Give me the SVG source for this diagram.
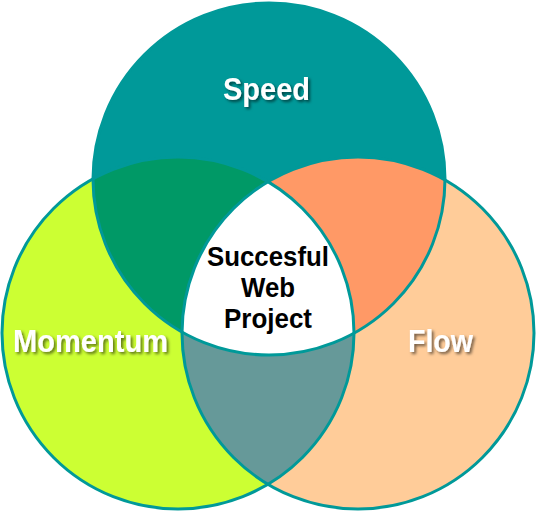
<svg xmlns="http://www.w3.org/2000/svg" width="536" height="513" viewBox="0 0 536 513">
<style>
.ring{fill:none;stroke:#009999;stroke-width:3}
.lbl{font-family:"Liberation Sans",Arial,sans-serif;font-weight:bold;font-size:31px;fill:#ffffff;text-anchor:middle;filter:url(#shadow)}
.ctr{font-family:"Liberation Sans",Arial,sans-serif;font-weight:bold;font-size:28px;fill:#000000;text-anchor:middle}
</style>
<defs>
<filter id="shadow" x="-20%" y="-30%" width="140%" height="160%">
<feDropShadow dx="2" dy="2" stdDeviation="1.5" flood-color="#000000" flood-opacity="0.55"/>
</filter>
<clipPath id="cTop"><circle cx="269" cy="179" r="176"/></clipPath>
<clipPath id="cLeft"><circle cx="178" cy="333" r="176"/></clipPath>
<clipPath id="cRight"><circle cx="358" cy="333" r="176"/></clipPath>
</defs>
<g id="node-speed">
<circle cx="269" cy="179" r="176" fill="#009999"/>
</g>
<g id="node-momentum">
<circle cx="178" cy="333" r="176" fill="#ccff33"/>
</g>
<g id="node-flow">
<circle cx="358" cy="333" r="176" fill="#ffcc99"/>
</g>
<g id="overlaps">
<g clip-path="url(#cTop)"><circle cx="178" cy="333" r="176" fill="#009966"/></g>
<g clip-path="url(#cTop)"><circle cx="358" cy="333" r="176" fill="#ff9966"/></g>
<g clip-path="url(#cLeft)"><circle cx="358" cy="333" r="176" fill="#669999"/></g>
<g id="node-center" clip-path="url(#cTop)"><g clip-path="url(#cLeft)"><circle cx="358" cy="333" r="176" fill="#ffffff"/></g></g>
</g>
<g id="connectors">
<circle class="ring" cx="269" cy="179" r="176"/>
<circle class="ring" cx="178" cy="333" r="176"/>
<circle class="ring" cx="358" cy="333" r="176"/>
</g>
<g id="labels">
<text class="lbl" x="266.5" y="100" textLength="87" lengthAdjust="spacingAndGlyphs">Speed</text>
<text class="lbl" x="90.5" y="352" textLength="155" lengthAdjust="spacingAndGlyphs">Momentum</text>
<text class="lbl" x="440.5" y="352" textLength="65" lengthAdjust="spacingAndGlyphs">Flow</text>
<text class="ctr" x="268" y="266" textLength="122" lengthAdjust="spacingAndGlyphs">Succesful</text>
<text class="ctr" x="268" y="297" textLength="54" lengthAdjust="spacingAndGlyphs">Web</text>
<text class="ctr" x="268" y="328" textLength="88" lengthAdjust="spacingAndGlyphs">Project</text>
</g>
</svg>
